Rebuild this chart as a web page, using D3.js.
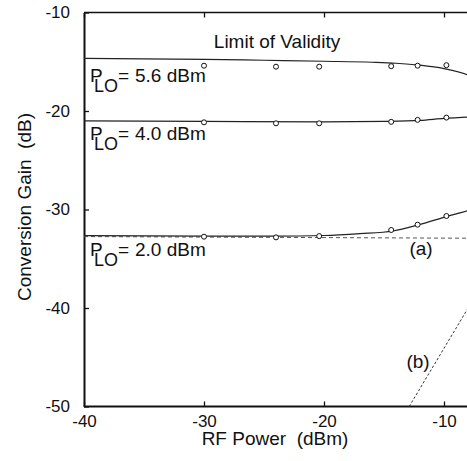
<!DOCTYPE html>
<html>
<head>
<meta charset="utf-8">
<script src="https://cdn.jsdelivr.net/npm/d3@7"></script>
<style>
  body { margin: 0; background: #fff; }
  svg { display: block; overflow: hidden; font-family: "Liberation Sans", Arial, sans-serif; }
</style>
</head>
<body>
<script>
const W = 467;
const H = 461;

// axis ticks
const xTicks = [-40, -30, -20, -10];
const yTicks = [-50, -40, -30, -20, -10];

// measured points (circles), x = RF power (dBm)
const measX = [-30, -24, -20.4, -14.4, -12.2, -9.8];
const meas56 = [-15.4, -15.5, -15.5, -15.45, -15.4, -15.35];
const meas40 = [-21.15, -21.25, -21.25, -21.1, -20.9, -20.67];
const meas20 = [-32.76, -32.83, -32.7, -32.08, -31.54, -30.66];

// simulated curves
const curve56 = [[-40, -14.65], [-30, -14.75], [-25, -14.85], [-20, -14.95], [-16, -15.05], [-14, -15.15], [-12, -15.35], [-10, -15.7], [-8, -16.35], [-7, -16.9]];
const curve40 = [[-40, -21.0], [-30, -21.05], [-20, -21.1], [-15, -21.05], [-12, -20.95], [-10, -20.75], [-8, -20.62], [-7, -20.5]];
const curve20 = [[-40, -32.66], [-30, -32.7], [-24, -32.7], [-20, -32.64], [-17, -32.45], [-14.25, -32.18], [-12.1, -31.55], [-9.75, -30.7], [-8, -30.1], [-7, -29.7]];

// small-signal asymptotes
const lineA = [[-40, -32.75], [-7, -32.92]];
const lineB = [[-12.9, -50], [-7.5, -39]];

const labels = [
  {value: "5.6", y: 82},
  {value: "4.0", y: 140},
  {value: "2.0", y: 256},
];

const x = d3.scaleLinear().domain([-40, 0]).range([84, 564]);
const y = d3.scaleLinear().domain([-50, -10]).range([406.5, 12.5]);

const svg = d3.select("body").append("svg")
  .attr("width", W)
  .attr("height", H)
  .attr("viewBox", `0 0 ${W} ${H}`);

// ── axes ────────────────────────────────────────────────────────────
const fmt = (d) => String(d);

const gx = svg.append("g")
  .attr("transform", `translate(0,${y(-50)})`)
  .call(d3.axisBottom(x).tickValues(xTicks).tickFormat(fmt).tickSizeInner(-5).tickSizeOuter(0).tickPadding(8.5));

const gy = svg.append("g")
  .attr("transform", `translate(${x(-40)},0)`)
  .call(d3.axisLeft(y).tickValues(yTicks).tickFormat(fmt).tickSizeInner(-5).tickSizeOuter(0).tickPadding(14));

const gt = svg.append("g")
  .attr("transform", `translate(0,${y(-10)})`)
  .call(d3.axisTop(x).tickValues(xTicks).tickFormat("").tickSizeInner(-5).tickSizeOuter(0));

for (const g of [gx, gy, gt]) {
  g.select(".domain").attr("stroke", "#111").attr("stroke-width", g === gt ? 1.6 : 2);
  g.selectAll(".tick line").attr("stroke", "#111").attr("stroke-width", 1.3);
  g.selectAll(".tick text")
    .attr("fill", "#111")
    .style("font-size", "17px")
    .style("font-family", "'Liberation Sans', Arial, sans-serif");
}
gt.select(".domain").attr("d", `M${x(-40)},0H${W + 10}`);
gx.select(".domain").attr("d", `M${x(-40)},0H${W + 10}`);

// axis titles
svg.append("text")
  .attr("x", 275)
  .attr("y", 445)
  .attr("text-anchor", "middle")
  .style("font-size", "19px")
  .attr("fill", "#111")
  .attr("xml:space", "preserve")
  .text("RF Power  (dBm)");

svg.append("text")
  .attr("transform", "translate(31,207) rotate(-90)")
  .attr("text-anchor", "middle")
  .style("font-size", "19px")
  .attr("fill", "#111")
  .attr("xml:space", "preserve")
  .text("Conversion Gain  (dB)");

// ── curves ──────────────────────────────────────────────────────────
const line = d3.line().x((d) => x(d[0])).y((d) => y(d[1])).curve(d3.curveMonotoneX);

svg.append("path")
  .datum(lineA)
  .attr("d", line)
  .attr("fill", "none")
  .attr("stroke", "#555")
  .attr("stroke-width", 1)
  .attr("stroke-dasharray", "4,3");

svg.append("path")
  .datum(lineB)
  .attr("d", d3.line().x((d) => x(d[0])).y((d) => y(d[1])))
  .attr("fill", "none")
  .attr("stroke", "#333")
  .attr("stroke-width", 1)
  .attr("stroke-dasharray", "2.5,2");

for (const c of [curve56, curve40, curve20]) {
  svg.append("path")
    .datum(c)
    .attr("d", line)
    .attr("fill", "none")
    .attr("stroke", "#222")
    .attr("stroke-width", 1.2);
}

// measured circles
for (const ys of [meas56, meas40, meas20]) {
  svg.append("g")
    .selectAll("circle")
    .data(measX.map((d, i) => [d, ys[i]]))
    .join("circle")
    .attr("cx", (d) => x(d[0]))
    .attr("cy", (d) => y(d[1]))
    .attr("r", 2.5)
    .attr("fill", "#fff")
    .attr("stroke", "#111")
    .attr("stroke-width", 1);
}

// ── annotations ─────────────────────────────────────────────────────
svg.append("text")
  .attr("x", 277)
  .attr("y", 48)
  .attr("text-anchor", "middle")
  .style("font-size", "19px")
  .attr("fill", "#111")
  .text("Limit of Validity");

for (const l of labels) {
  const t = svg.append("text")
    .attr("y", l.y)
    .style("font-size", "19px")
    .attr("fill", "#111");
  t.append("tspan").attr("x", 90).text("P");
  t.append("tspan").attr("x", 94).attr("dy", 10).style("font-size", "18px").text("LO");
  t.append("tspan").attr("x", 118).attr("dy", -10).text("=");
  t.append("tspan").attr("x", 135).text(`${l.value} dBm`);
}

svg.append("text")
  .attr("x", 421)
  .attr("y", 255)
  .attr("text-anchor", "middle")
  .style("font-size", "19px")
  .attr("fill", "#111")
  .text("(a)");

svg.append("text")
  .attr("x", 418)
  .attr("y", 368)
  .attr("text-anchor", "middle")
  .style("font-size", "19px")
  .attr("fill", "#111")
  .text("(b)");
</script>
</body>
</html>
